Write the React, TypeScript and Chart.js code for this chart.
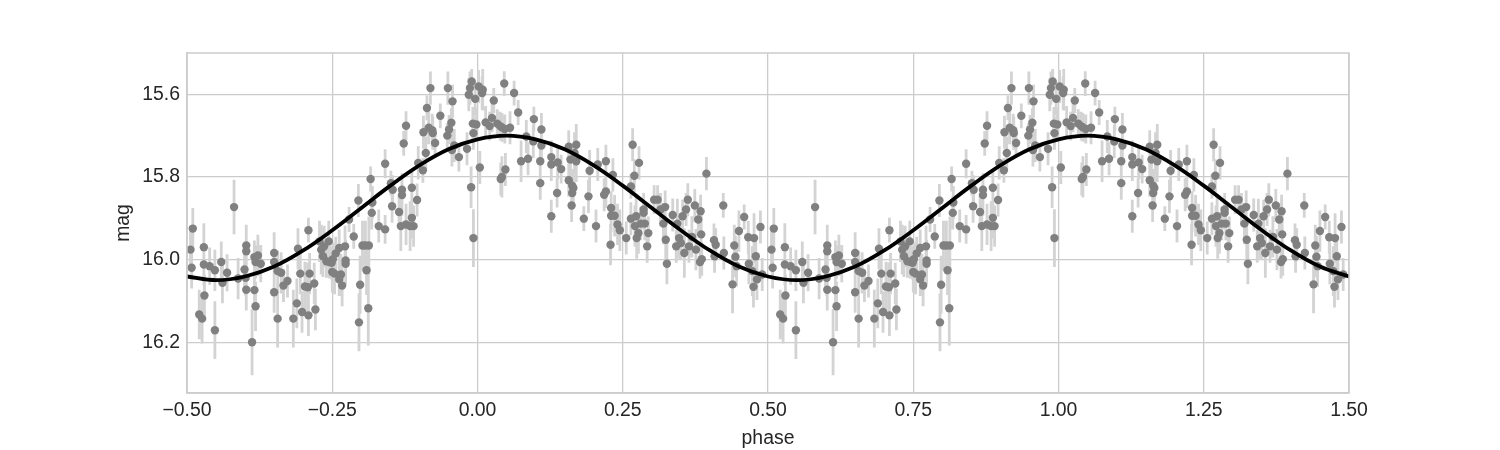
import React, { useEffect, useRef } from 'react';
import { Chart, registerables } from 'chart.js';

Chart.register(...registerables);

// One period of the folded light curve (phase in [-0.5, 0.5)); drawn again at phase + 1
const phase = [
  -0.490, -0.494, -0.492, -0.471, -0.471, -0.461, -0.452, -0.479, -0.474, -0.470,
  -0.452, -0.441, -0.439, -0.431, -0.419, -0.412, -0.401, -0.398, -0.398, -0.399,
  -0.398, -0.384, -0.382, -0.384, -0.382, -0.388,
  -0.378, -0.373, -0.350, -0.350, -0.344, -0.338, -0.350, -0.344, -0.334, -0.327,
  -0.317, -0.309, -0.305, -0.311, -0.302, -0.297, -0.292, -0.289, -0.291, -0.291,
  -0.281, -0.279, -0.272, -0.269, -0.266, -0.264, -0.260, -0.255, -0.256,
  -0.251, -0.249, -0.244, -0.250, -0.246, -0.238, -0.235, -0.238, -0.233, -0.228,
  -0.227, -0.227, -0.221, -0.213, -0.205, -0.202, -0.204, -0.198, -0.193, -0.187,
  -0.191, -0.188, -0.184, -0.181, -0.182, -0.170, -0.159, -0.159, -0.149, -0.147,
  -0.146, -0.135, -0.132, -0.130, -0.130, -0.127, -0.123, -0.123,
  -0.113, -0.113, -0.110, -0.116, -0.104, -0.102, -0.094, -0.093, -0.089, -0.087,
  -0.084, -0.081, -0.078, -0.077, -0.073, -0.064, -0.052, -0.051, -0.049, -0.045,
  -0.043, -0.044, -0.040, -0.032, -0.018, -0.015, -0.013, -0.010, -0.008, -0.007,
  -0.011, -0.007, -0.004,
  -0.002, 0.002, 0.008, 0.009, 0.004, 0.014, 0.021, 0.025, 0.028, 0.034,
  0.039, 0.042, 0.040, 0.042, 0.046, 0.048, 0.047, 0.056, 0.063, 0.070,
  0.075, 0.084, 0.087, 0.096, 0.097, 0.108, 0.108, 0.110, 0.110, 0.127,
  0.127, 0.127,
  0.137, 0.138, 0.144, 0.157, 0.157, 0.160, 0.163, 0.165, 0.163, 0.162,
  0.167, 0.170, 0.170, 0.183, 0.191, 0.193, 0.204, 0.207, 0.218, 0.221,
  0.221, 0.229, 0.230, 0.230, 0.236, 0.233, 0.241, 0.245,
  0.256, 0.264, 0.264, 0.267, 0.270, 0.271, 0.273, 0.274, 0.278, 0.277,
  0.281, 0.288, 0.286, 0.286, 0.292, 0.294, 0.304, 0.310, 0.315, 0.320,
  0.323, 0.324, 0.326, 0.336, 0.342, 0.344, 0.347, 0.350, 0.353, 0.356,
  0.359, 0.362, 0.364, 0.369, 0.374, 0.376,
  0.384, 0.380, 0.385, 0.383, 0.386, 0.394, 0.407, 0.410, 0.408, 0.423,
  0.424, 0.439, 0.442, 0.444, 0.446, 0.450, 0.459, 0.466, 0.476, 0.467,
  0.473, 0.475, 0.479, 0.481, 0.487, 0.490,
];

const mag = [
  15.925, 15.976, 16.020, 15.970, 16.012, 16.016, 16.026, 16.133, 16.143, 16.087,
  16.171, 16.006, 16.056, 16.032, 15.873, 16.046, 16.024, 15.980, 15.966, 16.044,
  16.073, 15.994, 16.006, 16.074, 16.113, 16.200,
  15.990, 16.010, 15.984, 16.006, 16.028, 16.032, 16.079, 16.143, 16.063, 16.052,
  16.143, 15.974, 16.034, 16.106, 16.127, 16.065, 16.067, 16.034, 16.135, 15.929,
  16.058, 16.121, 15.956, 15.976, 15.992, 15.968, 16.004, 16.006, 15.956,
  16.008, 15.999, 15.985, 16.030, 16.034, 15.972, 16.036, 16.048, 16.063, 15.968,
  16.002, 16.010, 15.903, 15.944, 15.857, 16.061, 16.152, 15.966, 15.966, 15.966,
  16.026, 16.118, 15.805, 15.862, 15.887, 15.919, 15.927, 15.768, 15.815, 15.871,
  15.831, 15.885, 15.919, 15.831, 15.844, 15.719, 15.676, 15.915,
  15.826, 15.899, 15.919, 15.919, 15.856, 15.766, 15.784, 15.692, 15.742, 15.633,
  15.681, 15.585, 15.687, 15.694, 15.718, 15.652, 15.700, 15.585, 15.685, 15.669,
  15.617, 15.735, 15.724, 15.752, 15.732, 15.601, 15.585, 15.569, 15.671, 15.694,
  15.825, 15.948, 15.611,
  15.673, 15.581, 15.597, 15.589, 15.777, 15.668, 15.677, 15.657, 15.615, 15.671,
  15.677, 15.680, 15.805, 15.800, 15.574, 15.782, 15.684, 15.681, 15.597, 15.644,
  15.762, 15.702, 15.756, 15.714, 15.660, 15.762, 15.815, 15.685, 15.724, 15.752,
  15.770, 15.895,
  15.839, 15.765, 15.781, 15.727, 15.808, 15.758, 15.821, 15.827, 15.839, 15.869,
  15.742, 15.762, 15.722, 15.901, 15.847, 15.785, 15.919, 15.770, 15.843, 15.835,
  15.762, 15.964, 15.875, 15.894, 15.894, 15.795, 15.915, 15.929,
  15.948, 15.823, 15.901, 15.722, 15.797, 15.919, 15.895, 15.948, 15.766, 15.936,
  15.913, 15.913, 15.879, 15.887, 15.968, 15.936, 15.855, 15.855, 15.879, 15.913,
  15.873, 15.952, 16.010, 15.892, 15.968, 15.913, 15.948, 15.960, 15.895, 15.984,
  15.879, 15.855, 15.968, 15.945, 15.869, 15.976,
  15.883, 15.903, 15.939, 16.006, 15.999, 15.792, 15.953, 15.964, 15.992, 15.869,
  15.984, 16.060, 15.966, 15.993, 16.016, 15.931, 15.897, 15.946, 15.948, 16.010,
  16.028, 16.066, 15.992, 16.048, 15.921, 16.036,
];

const magErr = [
  0.050, 0.050, 0.050, 0.058, 0.050, 0.045, 0.050, 0.060, 0.060, 0.050,
  0.070, 0.050, 0.050, 0.045, 0.066, 0.050, 0.050, 0.050, 0.050, 0.045,
  0.050, 0.040, 0.040, 0.050, 0.060, 0.080,
  0.050, 0.045, 0.050, 0.050, 0.050, 0.050, 0.050, 0.070, 0.040, 0.040,
  0.070, 0.050, 0.050, 0.060, 0.050, 0.060, 0.060, 0.050, 0.050, 0.030,
  0.050, 0.050, 0.050, 0.060, 0.050, 0.050, 0.040, 0.040, 0.050,
  0.040, 0.040, 0.040, 0.050, 0.050, 0.045, 0.050, 0.040, 0.050, 0.050,
  0.050, 0.050, 0.030, 0.030, 0.040, 0.070, 0.070, 0.060, 0.060, 0.070,
  0.060, 0.090, 0.030, 0.040, 0.040, 0.040, 0.035, 0.035, 0.030, 0.040,
  0.035, 0.040, 0.060, 0.040, 0.050, 0.030, 0.035, 0.050,
  0.040, 0.050, 0.050, 0.060, 0.040, 0.040, 0.030, 0.040, 0.040, 0.030,
  0.040, 0.040, 0.040, 0.040, 0.035, 0.030, 0.030, 0.040, 0.035, 0.035,
  0.040, 0.040, 0.040, 0.035, 0.040, 0.040, 0.040, 0.030, 0.040, 0.040,
  0.050, 0.070, 0.040,
  0.040, 0.040, 0.040, 0.050, 0.040, 0.040, 0.035, 0.035, 0.030, 0.035,
  0.035, 0.035, 0.040, 0.050, 0.030, 0.040, 0.035, 0.040, 0.030, 0.030,
  0.050, 0.040, 0.040, 0.040, 0.030, 0.040, 0.040, 0.040, 0.040, 0.040,
  0.040, 0.040,
  0.035, 0.040, 0.035, 0.040, 0.040, 0.040, 0.040, 0.040, 0.040, 0.040,
  0.050, 0.050, 0.050, 0.030, 0.040, 0.050, 0.040, 0.040, 0.040, 0.040,
  0.040, 0.050, 0.040, 0.040, 0.050, 0.040, 0.050, 0.050,
  0.040, 0.030, 0.040, 0.040, 0.040, 0.050, 0.050, 0.050, 0.040, 0.050,
  0.040, 0.040, 0.040, 0.040, 0.040, 0.040, 0.035, 0.035, 0.040, 0.050,
  0.040, 0.050, 0.050, 0.040, 0.040, 0.060, 0.050, 0.040, 0.040, 0.060,
  0.040, 0.040, 0.040, 0.050, 0.040, 0.050,
  0.040, 0.040, 0.050, 0.040, 0.040, 0.040, 0.040, 0.040, 0.040, 0.030,
  0.040, 0.070, 0.050, 0.050, 0.050, 0.050, 0.030, 0.040, 0.060, 0.050,
  0.060, 0.050, 0.040, 0.050, 0.040, 0.040,
];

// Model curve (one period)
const modelPhase = [
  -0.50, -0.45, -0.40, -0.35, -0.30, -0.25, -0.20, -0.15, -0.10, -0.05,
  0.00, 0.05, 0.10, 0.15, 0.20, 0.25, 0.30, 0.35, 0.40, 0.45,
];
const modelMag = [
  16.041, 16.050, 16.041, 16.017, 15.978, 15.929, 15.875, 15.821, 15.772, 15.733,
  15.709, 15.700, 15.709, 15.733, 15.772, 15.821, 15.875, 15.929, 15.978, 16.017,
];

const foldCycles = [0, 1];

const xTicks = [-0.5, -0.25, 0, 0.25, 0.5, 0.75, 1, 1.25, 1.5];
const xTickLabels = ['−0.50', '−0.25', '0.00', '0.25', '0.50', '0.75', '1.00', '1.25', '1.50'];
const yTicks = [15.6, 15.8, 16.0, 16.2];
const yTickLabels = ['15.6', '15.8', '16.0', '16.2'];

const FONT = '"Liberation Sans", Arial, Helvetica, sans-serif';
const TEXT = '#262626';
const GRID = '#cccccc';

const framePlugin = {
  id: 'frame',
  afterDatasetsDraw(chart: any) {
    const { ctx, chartArea } = chart;
    ctx.save();
    ctx.strokeStyle = GRID;
    ctx.lineWidth = 1.5;
    ctx.strokeRect(chartArea.left, chartArea.top, chartArea.right - chartArea.left, chartArea.bottom - chartArea.top);
    ctx.restore();
  },
};

export default function App() {
  const ref = useRef<HTMLCanvasElement>(null);

  useEffect(() => {
    if (!ref.current) return;

    const points = foldCycles.flatMap((c) => phase.map((p, i) => ({ x: p + c, y: mag[i] })));
    const bars: any[] = [];
    foldCycles.forEach((c) => {
      phase.forEach((p, i) => {
        bars.push({ x: p + c, y: mag[i] - magErr[i] });
        bars.push({ x: p + c, y: mag[i] + magErr[i] });
        bars.push({ x: p + c, y: null });
      });
    });
    const model = foldCycles.flatMap((c) => modelPhase.map((p, i) => ({ x: p + c, y: modelMag[i] })));
    model.push({ x: modelPhase[0] + 2, y: modelMag[0] });

    const chart = new Chart(ref.current, {
      type: 'scatter',
      data: {
        datasets: [
          {
            type: 'line',
            data: model,
            borderColor: '#000000',
            borderWidth: 3.8,
            pointRadius: 0,
            tension: 0.4,
            fill: false,
            order: 0,
            clip: 0,
          } as any,
          {
            data: points,
            backgroundColor: '#808080',
            borderWidth: 0,
            pointRadius: 4.2,
            order: 1,
            clip: 0,
          } as any,
          {
            type: 'line',
            data: bars,
            borderColor: '#d3d3d3',
            borderWidth: 2.8,
            pointRadius: 0,
            spanGaps: false,
            tension: 0,
            fill: false,
            order: 2,
            clip: 0,
          } as any,
        ],
      },
      options: {
        responsive: false,
        animation: false,
        events: [],
        layout: { padding: { left: 0, top: 53, right: 151, bottom: 0 } },
        plugins: { legend: { display: false }, tooltip: { enabled: false } },
        scales: {
          x: {
            type: 'linear',
            min: -0.5,
            max: 1.5,
            afterBuildTicks: (s: any) => { s.ticks = xTicks.map((v) => ({ value: v })); },
            afterFit: (s: any) => { s.height = 57; },
            grid: { color: GRID, lineWidth: 1.3, drawTicks: false },
            border: { display: true, color: GRID, width: 1.5 },
            ticks: {
              padding: 6,
              color: TEXT,
              font: { family: FONT, size: 19.4 },
              maxRotation: 0,
              callback: (_v: any, i: number) => xTickLabels[i],
            },
            title: {
              display: true,
              text: 'phase',
              color: TEXT,
              font: { family: FONT, size: 19.4 },
              padding: { top: 0, bottom: 0 },
            },
          },
          y: {
            type: 'linear',
            reverse: true,
            min: 15.5,
            max: 16.323,
            afterBuildTicks: (s: any) => { s.ticks = yTicks.map((v) => ({ value: v })); },
            afterFit: (s: any) => { s.width = 187; },
            grid: { color: GRID, lineWidth: 1.3, drawTicks: false },
            border: { display: true, color: GRID, width: 1.5 },
            ticks: {
              padding: 7,
              color: TEXT,
              font: { family: FONT, size: 19.4 },
              callback: (_v: any, i: number) => yTickLabels[i],
            },
            title: {
              display: true,
              text: 'mag',
              color: TEXT,
              font: { family: FONT, size: 19.4 },
              padding: { top: 112, bottom: 0 },
            },
          },
        },
      },
      plugins: [framePlugin],
    });

    return () => chart.destroy();
  }, []);

  return (
    <div style={{ position: 'absolute', left: 0, top: 0, width: 1500, height: 450, background: '#ffffff' }}>
      <canvas ref={ref} width={1500} height={450} style={{ display: 'block' }} />
    </div>
  );
}
